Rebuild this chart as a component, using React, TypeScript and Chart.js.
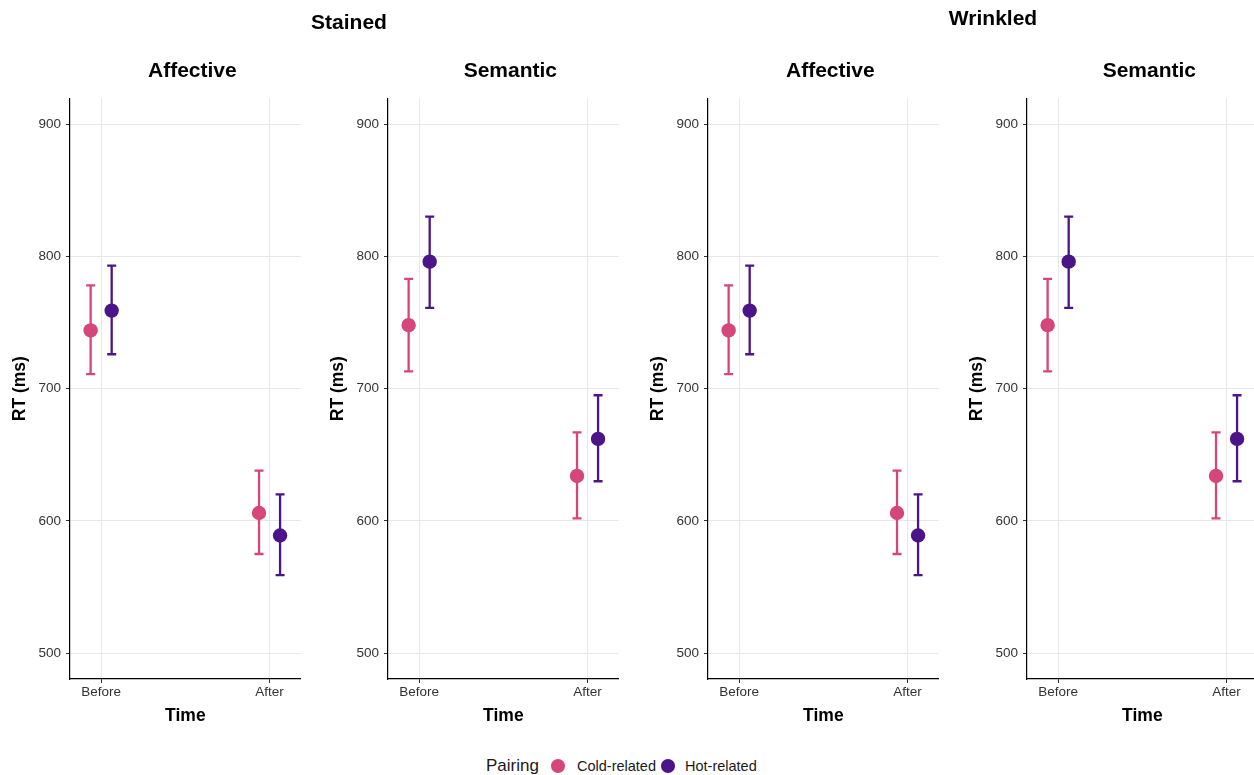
import React, { useEffect, useRef } from "react";
import { Chart, registerables } from "chart.js";

Chart.register(...registerables);

const FONT = '"Liberation Sans", Arial, Helvetica, sans-serif';
Chart.defaults.font.family = FONT;

// ---------- data ----------
const timeLabels = ["Before", "After"];
const yTickValues = [500, 600, 700, 800, 900];
const pairingLabels = ["Cold-related", "Hot-related"];
const groupLabels = ["Stained", "Wrinkled"];
const measureLabels = ["Affective", "Semantic"];

const stainedAffectiveCold = [744, 606];
const stainedAffectiveColdLo = [711, 575];
const stainedAffectiveColdHi = [778, 638];
const stainedAffectiveHot = [759, 589];
const stainedAffectiveHotLo = [726, 559];
const stainedAffectiveHotHi = [793, 620];

const stainedSemanticCold = [748, 634];
const stainedSemanticColdLo = [713, 602];
const stainedSemanticColdHi = [783, 667];
const stainedSemanticHot = [796, 662];
const stainedSemanticHotLo = [761, 630];
const stainedSemanticHotHi = [830, 695];

const wrinkledAffectiveCold = [744, 606];
const wrinkledAffectiveColdLo = [711, 575];
const wrinkledAffectiveColdHi = [778, 638];
const wrinkledAffectiveHot = [759, 589];
const wrinkledAffectiveHotLo = [726, 559];
const wrinkledAffectiveHotHi = [793, 620];

const wrinkledSemanticCold = [748, 634];
const wrinkledSemanticColdLo = [713, 602];
const wrinkledSemanticColdHi = [783, 667];
const wrinkledSemanticHot = [796, 662];
const wrinkledSemanticHotLo = [761, 630];
const wrinkledSemanticHotHi = [830, 695];

const COLD = "#D5467B";
const HOT = "#4B1589";
const DODGE = 0.0625;

const panels = [
  { title: measureLabels[0], cold: stainedAffectiveCold, coldLo: stainedAffectiveColdLo, coldHi: stainedAffectiveColdHi, hot: stainedAffectiveHot, hotLo: stainedAffectiveHotLo, hotHi: stainedAffectiveHotHi, left: 0 },
  { title: measureLabels[1], cold: stainedSemanticCold, coldLo: stainedSemanticColdLo, coldHi: stainedSemanticColdHi, hot: stainedSemanticHot, hotLo: stainedSemanticHotLo, hotHi: stainedSemanticHotHi, left: 318 },
  { title: measureLabels[0], cold: wrinkledAffectiveCold, coldLo: wrinkledAffectiveColdLo, coldHi: wrinkledAffectiveColdHi, hot: wrinkledAffectiveHot, hotLo: wrinkledAffectiveHotLo, hotHi: wrinkledAffectiveHotHi, left: 638 },
  { title: measureLabels[1], cold: wrinkledSemanticCold, coldLo: wrinkledSemanticColdLo, coldHi: wrinkledSemanticColdHi, hot: wrinkledSemanticHot, hotLo: wrinkledSemanticHotLo, hotHi: wrinkledSemanticHotHi, left: 957 },
];

const CANVAS_W = 320;
const CANVAS_H = 745;

const errorBarPlugin = {
  id: "errorBars",
  beforeDatasetsDraw(chart: any) {
    const { ctx } = chart;
    const xs = chart.scales.x;
    const ys = chart.scales.y;
    chart.data.datasets.forEach((ds: any) => {
      ctx.save();
      ctx.strokeStyle = ds.borderColor;
      ctx.lineWidth = 2.3;
      ctx.lineCap = "butt";
      ds.data.forEach((pt: any, i: number) => {
        const x = xs.getPixelForValue(pt.x);
        const yLo = ys.getPixelForValue(ds.lo[i]);
        const yHi = ys.getPixelForValue(ds.hi[i]);
        ctx.beginPath();
        ctx.moveTo(x, yLo);
        ctx.lineTo(x, yHi);
        ctx.moveTo(x - 4.5, yLo);
        ctx.lineTo(x + 4.5, yLo);
        ctx.moveTo(x - 4.5, yHi);
        ctx.lineTo(x + 4.5, yHi);
        ctx.stroke();
      });
      ctx.restore();
    });
  },
};

// panel title drawn by the chart, centred a little right of the plot centre (as in the reference)
const panelTitlePlugin = {
  id: "panelTitle",
  afterDraw(chart: any) {
    const { ctx } = chart;
    const text = chart.options.plugins.panelTitle.text;
    ctx.save();
    ctx.font = `bold 21px ${FONT}`;
    ctx.fillStyle = "#000";
    ctx.textAlign = "center";
    ctx.textBaseline = "middle";
    const cx = (chart.chartArea.left + chart.chartArea.right) / 2 + 7;
    ctx.fillText(text, cx, 71);
    ctx.restore();
  },
};

function Panel({ panel }: { panel: any }) {
  const ref = useRef<HTMLCanvasElement>(null);
  useEffect(() => {
    if (!ref.current) return;
    const mk = (vals: number[], off: number) => vals.map((v, i) => ({ x: i + 1 + off, y: v }));
    const chart = new Chart(ref.current, {
      type: "scatter",
      data: {
        datasets: [
          {
            label: pairingLabels[0],
            data: mk(panel.cold, -DODGE),
            lo: panel.coldLo,
            hi: panel.coldHi,
            backgroundColor: COLD,
            borderColor: COLD,
            pointRadius: 7.2,
            pointBorderWidth: 0,
          } as any,
          {
            label: pairingLabels[1],
            data: mk(panel.hot, DODGE),
            lo: panel.hotLo,
            hi: panel.hotHi,
            backgroundColor: HOT,
            borderColor: HOT,
            pointRadius: 7.2,
            pointBorderWidth: 0,
          } as any,
        ],
      },
      options: {
        responsive: false,
        animation: false,
        layout: { padding: { left: 0, right: 19.3, top: 98.3, bottom: 18.8 } },
        plugins: {
          legend: { display: false },
          tooltip: { enabled: false },
          title: { display: false },
          panelTitle: { text: panel.title },
        },
        scales: {
          x: {
            type: "linear",
            min: 0.815,
            max: 2.185,
            afterBuildTicks: (s: any) => {
              s.ticks = [1, 2].map((v) => ({ value: v }));
            },
            afterFit: (s: any) => {
              s.height = 47.2;
            },
            ticks: {
              callback: (v: any) => timeLabels[Math.round(Number(v)) - 1],
              color: "#333",
              font: { size: 13.5, family: FONT },
              padding: 1,
              maxRotation: 0,
              autoSkip: false,
            },
            grid: { color: "#e8e8e8", lineWidth: 1, tickColor: "#333", tickLength: 4 },
            border: { display: true, color: "#000", width: 1.2 },
            title: {
              display: true,
              text: "Time",
              color: "#000",
              font: { size: 17.5, weight: "bold", family: FONT },
              padding: 0,
            },
          },
          y: {
            type: "linear",
            min: 480.5,
            max: 919.5,
            afterBuildTicks: (s: any) => {
              s.ticks = yTickValues.map((v) => ({ value: v }));
            },
            afterFit: (s: any) => {
              s.width = 70;
            },
            ticks: {
              color: "#333",
              font: { size: 13.5, family: FONT },
              padding: 5,
            },
            grid: { color: "#e8e8e8", lineWidth: 1, tickColor: "#333", tickLength: 4 },
            border: { display: true, color: "#000", width: 1.2 },
            title: {
              display: true,
              text: "RT (ms)",
              color: "#000",
              font: { size: 17.5, weight: "bold", family: FONT },
              padding: { top: 10, bottom: 0 },
            },
          },
        },
      } as any,
      plugins: [errorBarPlugin, panelTitlePlugin],
    });
    return () => chart.destroy();
  }, [panel]);
  return (
    <canvas
      ref={ref}
      width={CANVAS_W}
      height={CANVAS_H}
      style={{ position: "absolute", left: panel.left, top: 0, width: CANVAS_W, height: CANVAS_H }}
    />
  );
}

const abs = (left: number, top: number, extra: any = {}) => ({
  position: "absolute" as const,
  left,
  top,
  transform: "translate(-50%, -50%)",
  whiteSpace: "nowrap" as const,
  fontFamily: FONT,
  ...extra,
});

export default function App() {
  return (
    <div
      style={{
        position: "fixed",
        left: 0,
        top: 0,
        width: 1254,
        height: 775,
        overflow: "hidden",
        background: "#fff",
      }}
    >
      {panels.map((p, i) => (
        <Panel key={i} panel={p} />
      ))}
      <div style={abs(349, 22, { fontSize: 21, fontWeight: "bold", color: "#000" })}>{groupLabels[0]}</div>
      <div style={abs(993, 18, { fontSize: 21, fontWeight: "bold", color: "#000" })}>{groupLabels[1]}</div>

      {/* legend */}
      <div style={{ ...abs(486, 766, { fontSize: 17, color: "#1a1a1a" }), transform: "translateY(-50%)" }}>Pairing</div>
      <div style={{ position: "absolute", left: 551, top: 759, width: 14, height: 14, borderRadius: 7, background: COLD }} />
      <div style={{ ...abs(577, 766, { fontSize: 14.5, color: "#1a1a1a" }), transform: "translateY(-50%)" }}>{pairingLabels[0]}</div>
      <div style={{ position: "absolute", left: 661, top: 759, width: 14, height: 14, borderRadius: 7, background: HOT }} />
      <div style={{ ...abs(685, 766, { fontSize: 14.5, color: "#1a1a1a" }), transform: "translateY(-50%)" }}>{pairingLabels[1]}</div>
    </div>
  );
}
